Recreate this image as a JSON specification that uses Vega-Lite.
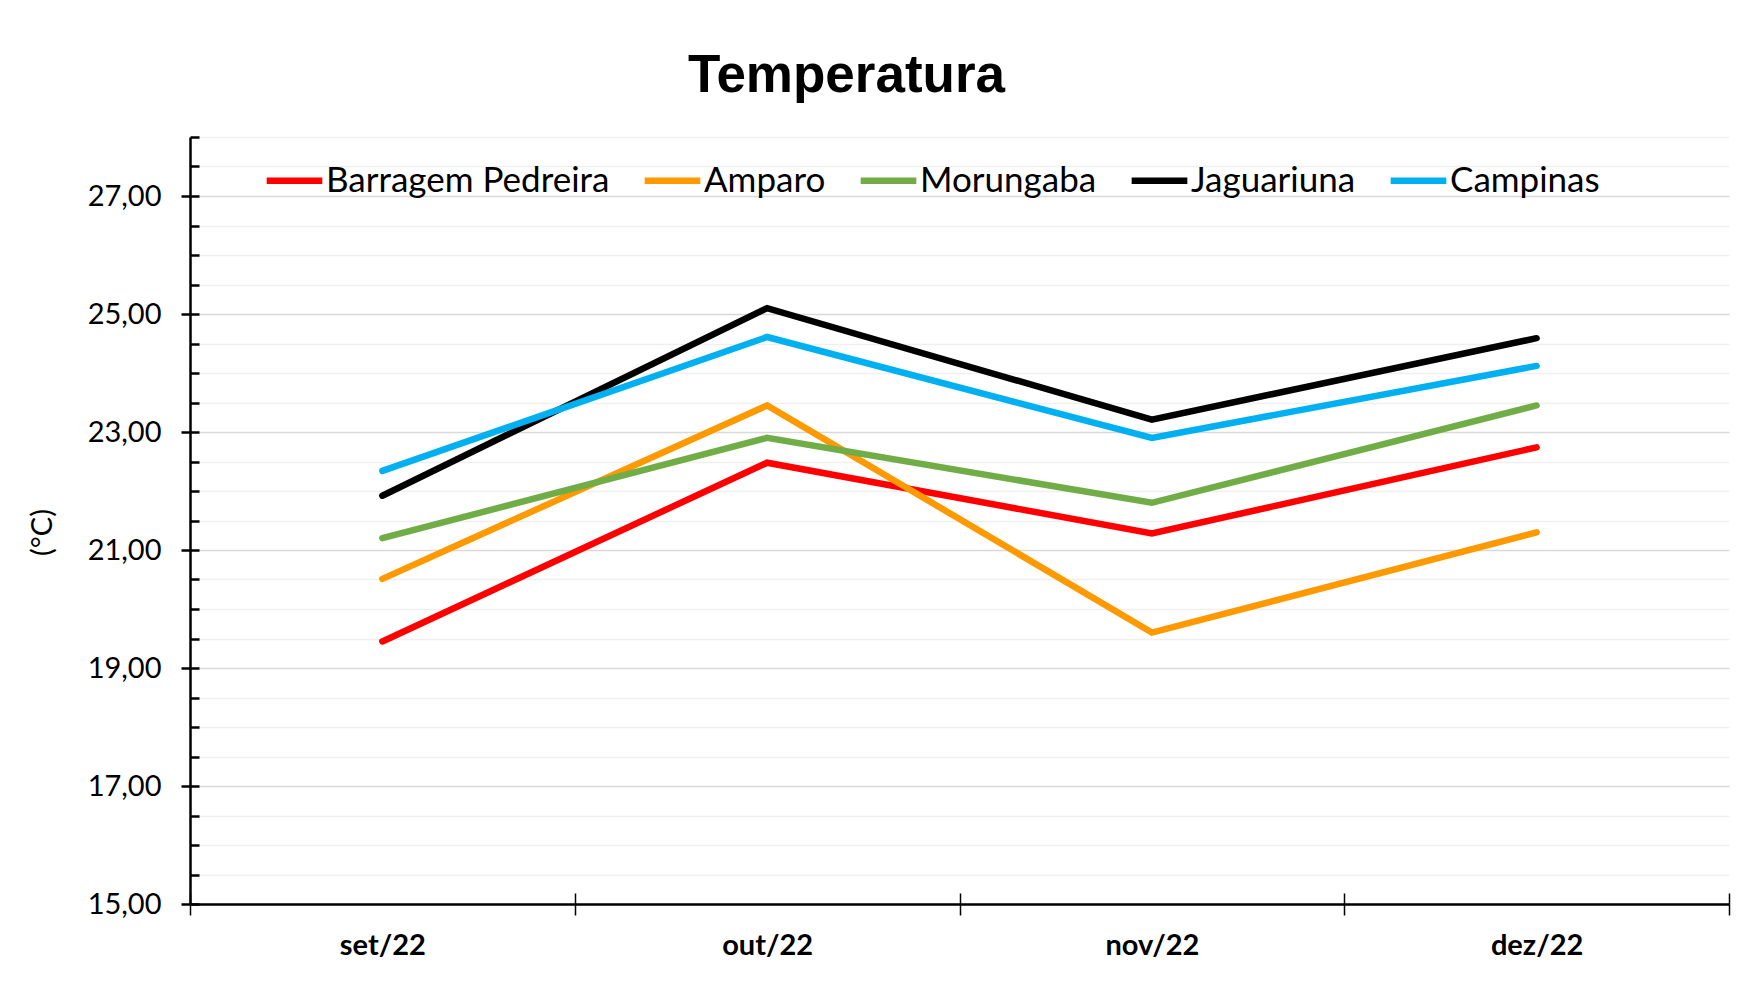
{
  "$schema": "https://vega.github.io/schema/vega-lite/v6.json",
  "autosize": {"type": "none"},
  "width": 1539,
  "height": 767,
  "padding": {"left": 190, "top": 137, "right": 9, "bottom": 80},
  "background": "white",
  "title": {
    "text": "Temperatura",
    "font": "Liberation Sans",
    "fontSize": 53,
    "fontWeight": "bold",
    "color": "black",
    "anchor": "middle",
    "dx": -113,
    "dy": 49,
    "baseline": "alphabetic",
    "offset": 40
  },
  "config": {
    "view": {"stroke": null},
    "font": "Lato"
  },
  "data": {
    "values": [
      {"mes": "set/22", "estacao": "Barragem Pedreira", "temp": 19.45},
      {"mes": "out/22", "estacao": "Barragem Pedreira", "temp": 22.48},
      {"mes": "nov/22", "estacao": "Barragem Pedreira", "temp": 21.28},
      {"mes": "dez/22", "estacao": "Barragem Pedreira", "temp": 22.74},
      {"mes": "set/22", "estacao": "Amparo", "temp": 20.51},
      {"mes": "out/22", "estacao": "Amparo", "temp": 23.45},
      {"mes": "nov/22", "estacao": "Amparo", "temp": 19.6},
      {"mes": "dez/22", "estacao": "Amparo", "temp": 21.3},
      {"mes": "set/22", "estacao": "Morungaba", "temp": 21.2},
      {"mes": "out/22", "estacao": "Morungaba", "temp": 22.9},
      {"mes": "nov/22", "estacao": "Morungaba", "temp": 21.8},
      {"mes": "dez/22", "estacao": "Morungaba", "temp": 23.45},
      {"mes": "set/22", "estacao": "Jaguariuna", "temp": 21.92},
      {"mes": "out/22", "estacao": "Jaguariuna", "temp": 25.1},
      {"mes": "nov/22", "estacao": "Jaguariuna", "temp": 23.21},
      {"mes": "dez/22", "estacao": "Jaguariuna", "temp": 24.59},
      {"mes": "set/22", "estacao": "Campinas", "temp": 22.34},
      {"mes": "out/22", "estacao": "Campinas", "temp": 24.61},
      {"mes": "nov/22", "estacao": "Campinas", "temp": 22.9},
      {"mes": "dez/22", "estacao": "Campinas", "temp": 24.12}
    ]
  },
  "layer": [
    {
      "mark": {"type": "line", "strokeWidth": 0, "opacity": 0},
      "encoding": {
        "x": {
          "field": "mes", "type": "nominal",
          "sort": ["set/22", "out/22", "nov/22", "dez/22"],
          "scale": {"type": "band", "paddingInner": 0, "paddingOuter": 0},
          "axis": {
            "orient": "bottom",
            "title": null,
            "labels": false,
            "domain": false,
            "grid": false,
            "tickBand": "extent",
            "tickSize": -11,
            "tickWidth": 1.5,
            "tickColor": "black"
          }
        },
        "y": {
          "field": "temp", "type": "quantitative",
          "scale": {"domain": [15, 28], "nice": false, "zero": false},
          "axis": {
            "orient": "left",
            "title": null,
            "labels": false,
            "domain": false,
            "values": [15, 15.5, 16, 16.5, 17, 17.5, 18, 18.5, 19, 19.5, 20, 20.5, 21, 21.5, 22, 22.5, 23, 23.5, 24, 24.5, 25, 25.5, 26, 26.5, 27, 27.5, 28],
            "tickSize": -9,
            "tickWidth": 2.5,
            "tickColor": "black",
            "grid": true,
            "gridWidth": 1.5,
            "gridColor": {"condition": {"test": "datum.value % 2 == 1", "value": "#d9d9d9"}, "value": "#f0f0f0"}
          }
        }
      }
    },
    {
      "mark": {"type": "line", "strokeWidth": 6.5, "strokeCap": "round", "strokeJoin": "miter"},
      "encoding": {
        "x": {
          "field": "mes", "type": "nominal",
          "sort": ["set/22", "out/22", "nov/22", "dez/22"],
          "scale": {"type": "band", "paddingInner": 0, "paddingOuter": 0},
          "axis": {
            "orient": "bottom",
            "title": null,
            "labelAngle": 0,
            "labelFont": "Lato",
            "labelFontSize": 29,
            "labelFontWeight": "bold",
            "labelColor": "black",
            "labelPadding": 16,
            "labelBaseline": "top",
            "domain": true,
            "domainColor": "black",
            "domainWidth": 2.5,
            "grid": false,
            "tickBand": "extent",
            "tickSize": 11,
            "tickWidth": 1.5,
            "tickColor": "black"
          }
        },
        "y": {
          "field": "temp", "type": "quantitative",
          "scale": {"domain": [15, 28], "nice": false, "zero": false},
          "axis": {
            "orient": "left",
            "title": "(°C)",
            "titleFont": "Lato",
            "titleFontSize": 29,
            "titleFontWeight": "normal",
            "titleColor": "black",
            "titleAngle": -90,
            "titleX": -148,
            "titleY": 395,
            "titleAlign": "center",
            "titleBaseline": "middle",
            "values": [15, 17, 19, 21, 23, 25, 27],
            "labelExpr": "replace(format(datum.value, '.2f'), '.', ',')",
            "labelFont": "Lato",
            "labelFontSize": 29,
            "labelColor": "black",
            "labelPadding": 20,
            "domain": true,
            "domainColor": "black",
            "domainWidth": 2.5,
            "grid": false,
            "tickSize": 9,
            "tickWidth": 2.5,
            "tickColor": "black"
          }
        },
        "color": {
          "field": "estacao", "type": "nominal",
          "scale": {
            "domain": ["Barragem Pedreira", "Amparo", "Morungaba", "Jaguariuna", "Campinas"],
            "range": ["#ff0000", "#ff9900", "#70ad47", "#000000", "#00b0f0"]
          },
          "legend": {
            "title": null,
            "orient": "none",
            "direction": "horizontal",
            "legendX": 73,
            "legendY": 12,
            "symbolType": "stroke",
            "symbolSize": 3100,
            "symbolStrokeWidth": 6.5,
            "labelFont": "Lato",
            "labelFontSize": 35,
            "labelColor": "black",
            "labelOffset": 0,
            "columnPadding": 21,
            "labelLimit": 400
          }
        }
      }
    }
  ],
  "resolve": {
    "scale": {"x": "shared", "y": "shared"},
    "axis": {"x": "independent", "y": "independent"}
  }
}
